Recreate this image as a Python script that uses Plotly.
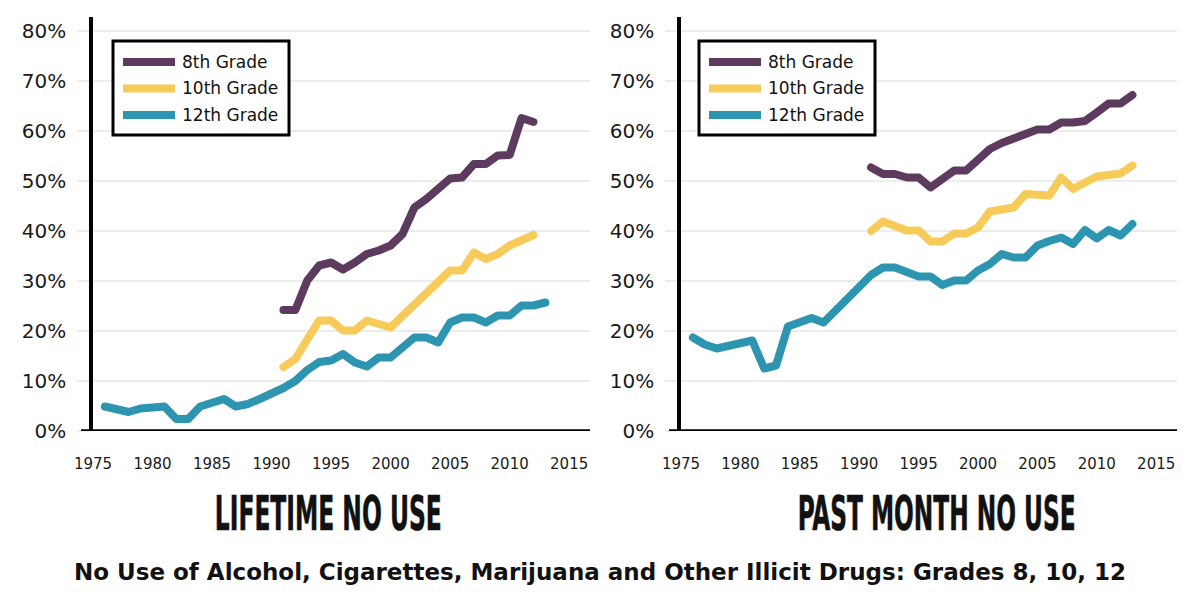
import json
import plotly.graph_objects as go

W, H = 1200, 600
FONT = "DejaVu Sans"

# ---------------- data ----------------
years_12th = list(range(1976, 2014))
years_life_8_10 = list(range(1991, 2013))
years_month_8_10 = list(range(1991, 2014))

lifetime_8th = [24.2, 24.2, 30.1, 33.1, 33.7, 32.3, 33.7, 35.4, 36.1, 37.1, 39.4,
                44.7, 46.4, 48.4, 50.5, 50.7, 53.4, 53.4, 55.1, 55.2, 62.6, 61.8]
lifetime_10th = [12.8, 14.4, 18.3, 22.1, 22.1, 20.1, 20.1, 22.1, 21.4, 20.7, 23.0,
                 25.3, 27.6, 29.8, 32.1, 32.1, 35.7, 34.4, 35.4, 37.1, 38.1, 39.2]
lifetime_12th = [4.9, 4.3, 3.8, 4.5, 4.9, 4.9, 2.4, 2.4, 4.9, 5.6, 6.4, 4.9, 5.4,
                 6.4, 7.4, 8.6, 10.0, 12.2, 13.8, 14.1, 15.4, 13.7, 12.9, 14.7,
                 14.7, 16.7, 18.7, 18.7, 17.7, 21.7, 22.7, 22.7, 21.7, 23.1, 23.1,
                 25.1, 25.1, 25.7]

month_8th = [52.7, 51.4, 51.4, 50.7, 50.7, 48.7, 50.4, 52.1, 52.1, 54.5, 56.4, 57.6,
             58.4, 59.4, 60.3, 60.3, 61.7, 61.7, 62.0, 63.7, 65.5, 65.5, 67.2]
month_10th = [40.0, 41.9, 41.0, 40.1, 40.1, 37.9, 37.9, 39.5, 39.5, 40.7, 43.9, 44.3,
              44.7, 47.4, 47.2, 47.1, 50.7, 48.4, 49.7, 50.9, 51.2, 51.5, 53.1]
month_12th = [18.7, 17.3, 16.5, 16.9, 17.5, 18.1, 12.5, 13.1, 20.9, 21.8, 22.6, 21.7,
              24.2, 26.6, 29.0, 31.2, 32.7, 32.7, 31.8, 30.9, 30.9, 29.2, 30.1, 30.1,
              32.1, 33.4, 35.4, 34.7, 34.7, 37.1, 38.0, 38.7, 37.4, 40.2, 38.5, 40.2,
              39.1, 41.4]

series_names = ["8th Grade", "10th Grade", "12th Grade"]
series_colors = ["#5c3b5e", "#f7cb5a", "#2e95b0"]
panel_titles = ["LIFETIME NO USE", "PAST MONTH NO USE"]
subtitle = "No Use of Alcohol, Cigarettes, Marijuana and Other Illicit Drugs: Grades 8, 10, 12"
x_ticks = [1975, 1980, 1985, 1990, 1995, 2000, 2005, 2010, 2015]
y_ticks = [0, 10, 20, 30, 40, 50, 60, 70, 80]
y_tick_text = [f"{v}%" for v in y_ticks]

panel_data = [
    [(years_life_8_10, lifetime_8th), (years_life_8_10, lifetime_10th), (years_12th, lifetime_12th)],
    [(years_month_8_10, month_8th), (years_month_8_10, month_10th), (years_12th, month_12th)],
]

# ---------------- layout geometry (pixels) ----------------
Y_TOP, Y_BOT = 17, 431
panels = [
    dict(x0=93, x1=590, leg=113, tcx=328, tlen=227),
    dict(x0=681, x1=1177, leg=699, tcx=936, tlen=278),
]

def fx(p):
    return p / W

def fy(p):
    return 1 - p / H

fig = go.Figure()

for i, pdata in enumerate(panel_data):
    sfx = "" if i == 0 else "2"
    for name, color, (xs, ys) in zip(series_names, series_colors, pdata):
        fig.add_trace(go.Scatter(
            x=xs, y=ys, name=name, mode="lines",
            line=dict(color=color, width=8),
            xaxis="x" + sfx, yaxis="y" + sfx,
            showlegend=False, hoverinfo="skip",
        ))

layout = dict(
    width=W, height=H,
    margin=dict(l=0, r=0, t=0, b=0, autoexpand=False),
    paper_bgcolor="white", plot_bgcolor="white",
    font=dict(family=FONT, color="#1a1a1a"),
    shapes=[], annotations=[],
)

for i, p in enumerate(panels):
    sfx = "" if i == 0 else "2"
    layout["xaxis" + sfx] = dict(
        domain=[fx(p["x0"]), fx(p["x1"])], range=[1975, 2016.75],
        tickvals=x_ticks, ticks="", showgrid=False, zeroline=False, showline=False,
        tickfont=dict(size=15, color="#1a1a1a", family=FONT),
        ticklabelstandoff=22, anchor="y" + sfx, fixedrange=True, automargin=False,
    )
    layout["yaxis" + sfx] = dict(
        domain=[fy(Y_BOT), fy(Y_TOP)], range=[0, 82.8],
        tickvals=y_ticks, ticktext=y_tick_text,
        showgrid=True, gridcolor="#ececec", gridwidth=1.5, zeroline=False,
        showline=True, linecolor="#000000", linewidth=3.5,
        ticks="outside", ticklen=12, tickcolor="#ececec", tickwidth=1.5,
        tickfont=dict(size=20, color="#1a1a1a", family=FONT),
        ticklabelstandoff=7, anchor="x" + sfx, fixedrange=True, automargin=False,
    )
    # baseline extending left of the y axis
    width_px = p["x1"] - p["x0"]
    layout["shapes"].append(dict(
        type="line", xref="x" + sfx + " domain", yref="y" + sfx,
        x0=-12 / width_px, x1=1, y0=0, y1=0,
        line=dict(color="#000000", width=3.5), layer="above",
    ))
    # legend box
    lx = p["leg"]
    layout["shapes"].append(dict(
        type="rect", xref="paper", yref="paper",
        x0=fx(lx), x1=fx(lx + 176), y0=fy(135), y1=fy(41),
        line=dict(color="#000000", width=3), fillcolor="white", layer="above",
    ))
    for k, (name, color) in enumerate(zip(series_names, series_colors)):
        ry = 62 + k * 26.5
        layout["shapes"].append(dict(
            type="line", xref="paper", yref="paper",
            x0=fx(lx + 10), x1=fx(lx + 62), y0=fy(ry), y1=fy(ry),
            line=dict(color=color, width=8), layer="above",
        ))
        layout["annotations"].append(dict(
            text=name, xref="paper", yref="paper", x=fx(lx + 67), y=fy(ry),
            xanchor="left", yanchor="middle", showarrow=False,
            font=dict(size=17, color="#111111", family=FONT),
        ))
    # panel title (enlarged and narrowed in the browser below)
    layout["annotations"].append(dict(
        text=panel_titles[i], xref="paper", yref="paper", x=fx(p["tcx"]), y=fy(520),
        xanchor="center", yanchor="middle", showarrow=False,
        font=dict(size=28, color="#111111", family="DejaVu Sans Condensed, DejaVu Sans", weight="bold"),
    ))

layout["annotations"].append(dict(
    text=subtitle, xref="paper", yref="paper", x=0.5, y=fy(572),
    xanchor="center", yanchor="middle", showarrow=False,
    font=dict(size=23, color="#111111", family=FONT, weight="bold"),
))

fig.update_layout(**layout)

post = """
document.body.style.margin = '0';
document.body.style.overflow = 'hidden';
var gd = document.getElementById('{plot_id}');
var TITLES = %s;
var LENS = %s;
function fixUp(){
  gd.querySelectorAll('g.annotation text').forEach(function(t){
    var i = TITLES.indexOf(t.textContent);
    if (i >= 0) {
      t.style.fontSize = '48px';
      t.style.stroke = '#111111';
      t.style.strokeWidth = '0.6px';
      t.removeAttribute('transform');
      var w = t.getComputedTextLength();
      var s = LENS[i] / w;
      var x = parseFloat(t.getAttribute('x')) || 0;
      t.setAttribute('transform', 'translate(' + (x * (1 - s)) + ',0) scale(' + s + ',1)');
    }
  });
  gd.querySelectorAll('.scatterlayer .js-line').forEach(function(p){
    p.style.strokeLinejoin = 'round';
    p.style.strokeLinecap = 'round';
  });
}
fixUp();
gd.on('plotly_afterplot', fixUp);
""" % (json.dumps(panel_titles), json.dumps([p["tlen"] for p in panels]))

fig.write_html("out.html", post_script=post, config={"displayModeBar": False})
